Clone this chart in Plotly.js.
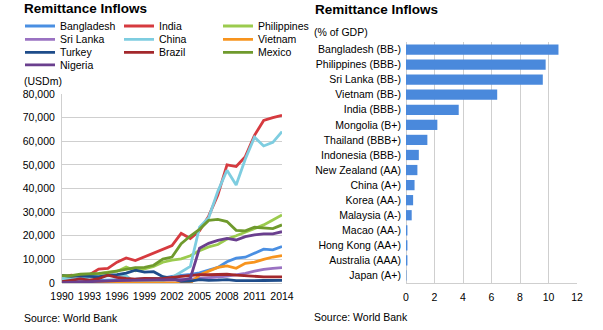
<!DOCTYPE html>
<html>
<head>
<meta charset="utf-8">
<script src="https://cdn.plot.ly/plotly-3.0.1.min.js"></script>
<style>html,body{margin:0;padding:0;background:#fff;}#chart{width:603px;height:330px;}</style>
</head>
<body>
<div id="chart"></div>
<script>
// ---- Data (left: remittance inflows, USDm) ----
const years = [1990,1991,1992,1993,1994,1995,1996,1997,1998,1999,2000,2001,2002,2003,2004,2005,2006,2007,2008,2009,2010,2011,2012,2013,2014];
const bangladesh = [800,780,900,1000,1150,1200,1350,1500,1600,1800,1950,2100,2850,3200,3600,4300,5400,6600,9000,10500,10900,12600,14300,14000,15400];
const india = [2400,3300,2900,3500,5900,6200,8800,10600,9500,11100,12800,14300,15800,21000,18800,22100,28300,37200,50000,49300,53500,62500,68800,70000,71000];
const philippines = [2500,2800,3200,3500,3900,4600,4900,6800,5200,6000,7000,8800,9700,10200,11500,13700,15300,16300,18600,20000,21600,23000,24600,26700,28800];
const sriLanka = [400,440,550,630,700,790,830,920,1000,1080,1170,1180,1310,1440,1590,1980,2170,2530,2930,3360,4100,5000,5800,6200,6500];
const china = [2000,1500,1800,2500,2800,3000,3200,3000,200,500,760,900,2350,4700,7000,23600,27600,38800,47700,41500,52500,61700,58000,59500,64100];
const vietnam = [0,0,0,0,0,0,0,0,0,0,0,0,0,0,0,3400,5100,6600,7200,6200,8300,8800,10000,11000,11600];
const turkey = [3250,2850,3000,2900,2600,3300,3500,4200,5400,4600,4800,2700,1950,730,800,1450,1100,1200,1400,970,830,1000,1050,1100,1100];
const brazil = [600,1100,1700,1200,1800,3300,2400,1900,1600,1900,1700,1800,2400,2800,3400,3500,3500,3600,3700,3300,3000,2800,2600,2600,2600];
const mexico = [3100,3100,3700,3800,4100,4400,5000,5900,6500,6600,7500,10100,11000,16600,19900,22700,26500,26900,26000,22300,22100,23600,23400,23000,24600];
const nigeria = [100,300,500,700,800,900,1000,1100,1200,1300,1400,1500,1400,1100,2000,14700,16800,18000,18900,18200,19600,20400,20800,20800,21700];

const seriesNames = ["Bangladesh","India","Philippines","Sri Lanka","China","Vietnam","Turkey","Brazil","Mexico","Nigeria"];
const seriesValues = [bangladesh,india,philippines,sriLanka,china,vietnam,turkey,brazil,mexico,nigeria];
const seriesColors = ["#4A8FE2","#D63A3F","#9BCB4E","#9A72C2","#7ECDE0","#F7941E","#1E4C8A","#A3282C","#6F9A2D","#6A3F8E"];
const yearTicks = [1990,1993,1996,1999,2002,2005,2008,2011,2014];

// ---- Data (right: remittance inflows, % of GDP) ----
const countries = ["Bangladesh (BB-)","Philippines (BBB-)","Sri Lanka (BB-)","Vietnam (BB-)","India (BBB-)","Mongolia (B+)","Thailand (BBB+)","Indonesia (BBB-)","New Zealand (AA)","China (A+)","Korea (AA-)","Malaysia (A-)","Macao (AA-)","Hong Kong (AA+)","Australia (AAA)","Japan (A+)"];
const pctGDP = [10.7,9.8,9.6,6.4,3.7,2.2,1.5,0.9,0.8,0.6,0.5,0.4,0.1,0.1,0.1,0.03];

const W = 603, H = 330;
const px = x => x / W;
const py = y => 1 - y / H;
const FONT = "Liberation Sans, Arial, Helvetica, sans-serif";
const GRID = "#CFCFCF";

const legendRows = [26, 39.3, 52.3, 64.8];
const traces = seriesNames.map((n, i) => ({
  type: "scatter", mode: "lines", name: n, x: years, y: seriesValues[i],
  line: {color: seriesColors[i], width: 2.8},
  xaxis: "x", yaxis: "y",
  legend: i < 3 ? "legend" : ("legend" + (Math.floor(i / 3) + 1)),
  hoverinfo: "skip"
}));
traces.push({
  type: "bar", orientation: "h", x: pctGDP, y: countries,
  marker: {color: "#4A89DC", line: {color: "#4A89DC", width: 0}},
  xaxis: "x2", yaxis: "y2", showlegend: false, hoverinfo: "skip"
});

function legendDef(row) {
  return {
    orientation: "h", x: px(20), xanchor: "left", y: py(legendRows[row]), yanchor: "middle",
    entrywidth: 54, entrywidthmode: "pixels", font: {family: FONT, size: 10.5, color: "#000"},
    bgcolor: "rgba(0,0,0,0)", borderwidth: 0, itemclick: false, itemdoubleclick: false,
    tracegroupgap: 0, traceorder: "normal"
  };
}

const layout = {
  width: W, height: H, margin: {l: 0, r: 0, t: 0, b: 0},
  paper_bgcolor: "#fff", plot_bgcolor: "rgba(0,0,0,0)",
  font: {family: FONT, size: 10.5, color: "#000"},
  showlegend: true,
  legend: legendDef(0), legend2: legendDef(1), legend3: legendDef(2), legend4: legendDef(3),
  xaxis: {
    domain: [px(62), px(282)], range: [1990, 2014], tickvals: yearTicks, ticktext: yearTicks.map(String),
    showgrid: false, zeroline: false, showline: false, ticks: "", ticklen: 0, ticklabelstandoff: 5,
    tickfont: {family: FONT, size: 10.5, color: "#000"}, anchor: "y", fixedrange: true
  },
  yaxis: {
    domain: [py(283), py(94)], range: [0, 80000], dtick: 10000, tick0: 0, tickformat: ",d",
    showgrid: true, gridcolor: GRID, gridwidth: 1, zeroline: true, zerolinecolor: GRID, zerolinewidth: 1,
    showline: true, linecolor: GRID, linewidth: 1, ticks: "", ticklabelstandoff: 4,
    tickfont: {family: FONT, size: 10.5, color: "#000"}, anchor: "x", fixedrange: true
  },
  xaxis2: {
    domain: [px(406), px(577)], range: [0, 12], dtick: 2, tick0: 0,
    showgrid: true, gridcolor: GRID, gridwidth: 1, zeroline: true, zerolinecolor: GRID,
    showline: true, linecolor: GRID, linewidth: 1, ticks: "", mirror: false, ticklabelstandoff: 4,
    tickfont: {family: FONT, size: 10.5, color: "#000"}, anchor: "y2", fixedrange: true
  },
  yaxis2: {
    domain: [py(283), py(42)], autorange: "reversed", type: "category",
    showgrid: false, showline: false, ticks: "", ticklabelstandoff: 4,
    tickfont: {family: FONT, size: 10.5, color: "#000"}, anchor: "x2", fixedrange: true
  },
  bargap: 0.32,
  annotations: [
    {text: "<b>Remittance Inflows</b>", xref: "paper", yref: "paper", x: px(22), y: py(9), xanchor: "left", yanchor: "middle", showarrow: false, font: {family: FONT, size: 13.5, color: "#000"}},
    {text: "<b>Remittance Inflows</b>", xref: "paper", yref: "paper", x: px(313), y: py(10), xanchor: "left", yanchor: "middle", showarrow: false, font: {family: FONT, size: 13.5, color: "#000"}},
    {text: "(USDm)", xref: "paper", yref: "paper", x: px(22), y: py(81), xanchor: "left", yanchor: "middle", showarrow: false, font: {family: FONT, size: 10.5, color: "#000"}},
    {text: "(% of GDP)", xref: "paper", yref: "paper", x: px(312), y: py(32), xanchor: "left", yanchor: "middle", showarrow: false, font: {family: FONT, size: 10.5, color: "#000"}},
    {text: "Source: World Bank", xref: "paper", yref: "paper", x: px(22), y: py(318), xanchor: "left", yanchor: "middle", showarrow: false, font: {family: FONT, size: 10.5, color: "#000"}},
    {text: "Source: World Bank", xref: "paper", yref: "paper", x: px(312), y: py(317), xanchor: "left", yanchor: "middle", showarrow: false, font: {family: FONT, size: 10.5, color: "#000"}}
  ]
};

Plotly.newPlot("chart", traces, layout, {staticPlot: true, displayModeBar: false});
</script>
</body>
</html>
